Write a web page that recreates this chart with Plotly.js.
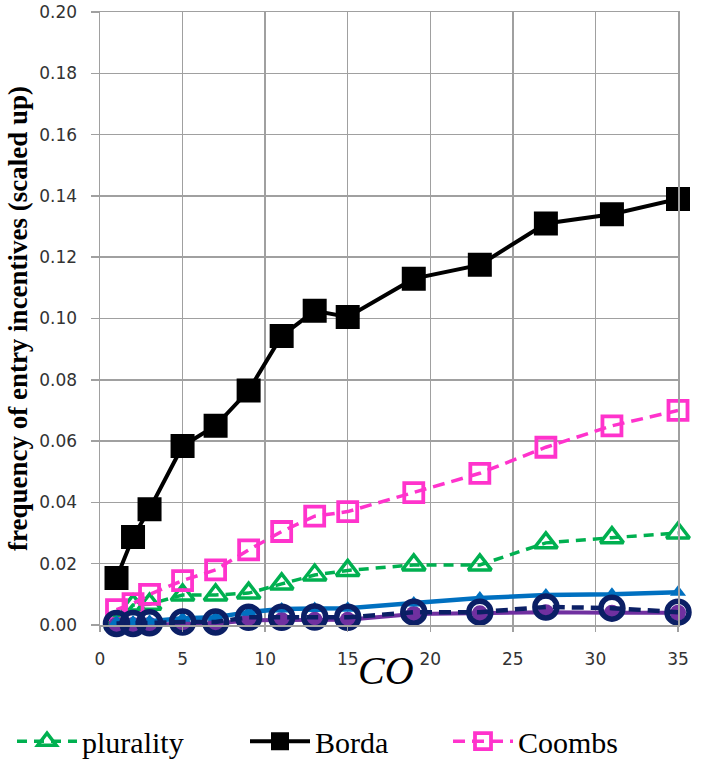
<!DOCTYPE html>
<html>
<head>
<meta charset="utf-8">
<script src="https://cdn.plot.ly/plotly-3.0.1.min.js"></script>
<style>html,body{margin:0;padding:0;background:#fff;}#chart{width:707px;height:761px;}</style>
</head>
<body>
<div id="chart"></div>
<script>
// x values (CO)
const CO = [1, 2, 3, 5, 7, 9, 11, 13, 15, 19, 23, 27, 31, 35];
// series values
const plurality = [0.0003, 0.0065, 0.0068, 0.0098, 0.0098, 0.0104, 0.0134, 0.0163, 0.0178, 0.0196, 0.0196, 0.0268, 0.0285, 0.0300];
const borda     = [0.0153, 0.0287, 0.0378, 0.0584, 0.0650, 0.0765, 0.0943, 0.1025, 0.1005, 0.1130, 0.1175, 0.1310, 0.1340, 0.1390];
const coombs    = [0.0050, 0.0070, 0.0100, 0.0145, 0.0180, 0.0245, 0.0305, 0.0355, 0.0370, 0.0432, 0.0495, 0.0580, 0.0650, 0.0700];
const seriesBlue   = [0.0010, 0.0010, 0.0012, 0.0022, 0.0025, 0.0042, 0.0052, 0.0054, 0.0055, 0.0072, 0.0088, 0.0098, 0.0100, 0.0107];
const seriesNavy   = [0.0005, 0.0005, 0.0007, 0.0010, 0.0010, 0.0025, 0.0025, 0.0026, 0.0025, 0.0042, 0.0042, 0.0059, 0.0055, 0.0042];
const seriesPurple = [0.0000, 0.0000, 0.0000, 0.0003, 0.0005, 0.0015, 0.0016, 0.0017, 0.0017, 0.0036, 0.0038, 0.0042, 0.0040, 0.0040];
const yTicks = [0, 0.02, 0.04, 0.06, 0.08, 0.10, 0.12, 0.14, 0.16, 0.18, 0.20];
const xTicks = [0, 5, 10, 15, 20, 25, 30, 35];

const SERIF = 'Liberation Serif, Times New Roman, serif';

const traces = [
  {x: CO, y: plurality, name: 'plurality', type: 'scatter', mode: 'lines+markers', cliponaxis: false,
   line: {color: '#00B050', width: 3.5, dash: '10px,7px'},
   marker: {symbol: 'triangle-up-open', size: 20, color: '#00B050', line: {width: 3.5, color: '#00B050'}}, legend: 'legend'},
  {x: CO, y: borda, name: 'Borda', type: 'scatter', mode: 'lines+markers', cliponaxis: false,
   line: {color: '#000000', width: 4},
   marker: {symbol: 'square', size: 22, color: '#000000', line: {width: 2, color: '#000000'}}, legend: 'legend2'},
  {x: CO, y: coombs, name: 'Coombs', type: 'scatter', mode: 'lines+markers', cliponaxis: false,
   line: {color: '#FF33CC', width: 3.5, dash: '12px,7px'},
   marker: {symbol: 'square-open', size: 19, color: '#FF33CC', line: {width: 3.8, color: '#FF33CC'}}, legend: 'legend3'},
  {x: CO, y: seriesPurple, name: 'series 4', showlegend: false, type: 'scatter', mode: 'lines+markers', cliponaxis: false,
   line: {color: '#7030A0', width: 4},
   marker: {symbol: 'circle', size: 16, color: '#7030A0'}},
  {x: CO, y: seriesBlue, name: 'series 5', showlegend: false, type: 'scatter', mode: 'lines+markers', cliponaxis: false,
   line: {color: '#0070C0', width: 4.5},
   marker: {symbol: 'triangle-up', size: 14, color: '#0070C0'}},
  {x: CO, y: seriesNavy, name: 'series 6', showlegend: false, type: 'scatter', mode: 'lines+markers', cliponaxis: false,
   line: {color: '#0B1F65', width: 4.5, dash: '12px,7px'},
   marker: {symbol: 'circle-open', size: 22, color: '#0B1F65', line: {width: 5.5, color: '#0B1F65'}}}
];

const legendBase = {orientation: 'h', yref: 'container', xref: 'container', yanchor: 'middle', y: 0.026, xanchor: 'left',
  font: {family: SERIF, size: 30, color: '#000'}, itemwidth: 60, bgcolor: 'rgba(0,0,0,0)'};

const layout = {
  width: 707, height: 761,
  margin: {l: 100, r: 29, t: 12, b: 136, pad: 0},
  paper_bgcolor: '#fff', plot_bgcolor: '#fff',
  showlegend: true,
  legend: Object.assign({}, legendBase, {x: 12 / 707}),
  legend2: Object.assign({}, legendBase, {x: 245 / 707}),
  legend3: Object.assign({}, legendBase, {x: 448 / 707}),
  xaxis: {
    range: [0, 35], tickvals: xTicks, ticktext: xTicks.map(String),
    showgrid: true, gridcolor: '#A0A0A0', gridwidth: 1.5,
    showline: true, linecolor: '#A0A0A0', linewidth: 1.5, mirror: true,
    zeroline: false, ticks: 'outside', ticklen: 5, tickcolor: '#A0A0A0', tickwidth: 1.5,
    ticklabelstandoff: 13,
    tickfont: {family: 'DejaVu Sans', size: 17, color: '#333'},
    automargin: false
  },
  yaxis: {
    range: [0, 0.2], tickvals: yTicks, ticktext: yTicks.map(v => v.toFixed(2)),
    showgrid: true, gridcolor: '#A0A0A0', gridwidth: 1.5,
    showline: true, linecolor: '#A0A0A0', linewidth: 1.5, mirror: true,
    zeroline: false, ticks: 'outside', ticklen: 8, tickcolor: '#A0A0A0', tickwidth: 1.5,
    ticklabelstandoff: 10,
    tickfont: {family: 'DejaVu Sans', size: 17, color: '#333'},
    title: {text: 'frequency of entry incentives (scaled up)', standoff: 4,
            font: {family: SERIF, size: 27, color: '#000', weight: 'bold'}},
    automargin: false
  },
  annotations: [{
    text: 'CO', xref: 'paper', yref: 'paper', x: 0.495, y: -0.075,
    xanchor: 'center', yanchor: 'middle', showarrow: false,
    font: {family: SERIF, size: 40, color: '#000', style: 'italic'}
  }]
};

Plotly.newPlot('chart', traces, layout, {displayModeBar: false, staticPlot: true});
</script>
</body>
</html>
